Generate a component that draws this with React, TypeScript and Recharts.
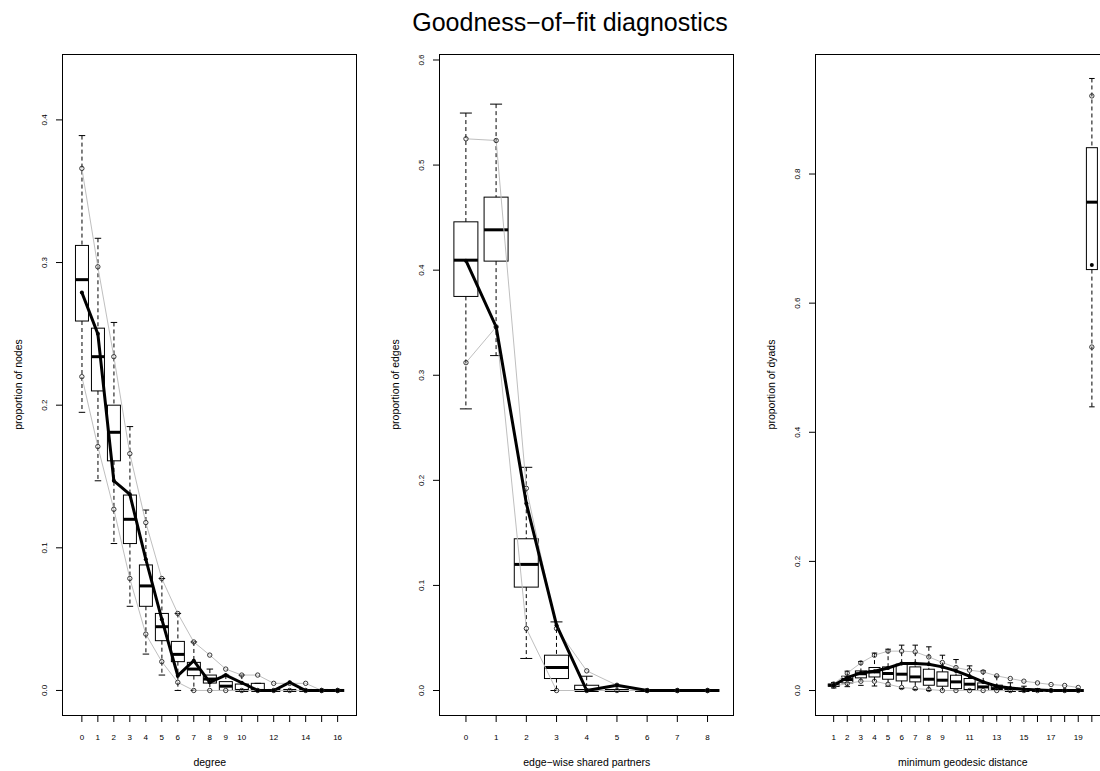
import React from 'react';
import { ComposedChart, Bar, Line, XAxis, YAxis, Label } from 'recharts';

const FONT = '"Liberation Sans", Arial, Helvetica, sans-serif';
const GREY = '#bfbfbf';

// degree
const degreeCats = ['0', '1', '2', '3', '4', '5', '6', '7', '8', '9', '10', '11', '12', '13', '14', '15', '16'];
const degreeShown = ['0', '1', '2', '3', '4', '5', '6', '7', '8', '9', '10', '12', '14', '16'];
const degreeWhiskerLo = [0.195, 0.147, 0.103, 0.059, 0.0255, 0.0108, 0, 0, 0, 0, 0, 0, 0, 0, 0, 0, 0];
const degreeQ1 = [0.259, 0.21, 0.161, 0.103, 0.059, 0.0349, 0.0202, 0.0104, 0.0052, 0, 0, 0, 0, 0, 0, 0, 0];
const degreeMedian = [0.288, 0.234, 0.181, 0.12, 0.0733, 0.0447, 0.0253, 0.015, 0.008, 0.003, 0, 0, 0, 0, 0, 0, 0];
const degreeQ3 = [0.312, 0.254, 0.2, 0.137, 0.088, 0.054, 0.0344, 0.0197, 0.0108, 0.0062, 0.0045, 0.005, 0, 0, 0, 0, 0];
const degreeWhiskerHi = [0.389, 0.317, 0.258, 0.185, 0.1265, 0.0785, 0.054, 0.034, 0.015, 0.0108, 0.0108, 0.005, 0, 0, 0, 0, 0];
const degreeBandLo = [0.22, 0.171, 0.127, 0.0785, 0.0395, 0.0202, 0.0057, 0, 0, 0, 0, 0, 0, 0, 0, 0, 0];
const degreeBandHi = [0.366, 0.297, 0.234, 0.166, 0.1177, 0.0785, 0.054, 0.034, 0.0248, 0.015, 0.0108, 0.0108, 0.005, 0.005, 0.005, 0, 0];
const degreeObserved = [0.279, 0.25, 0.147, 0.1375, 0.092, 0.05, 0.0104, 0.0209, 0.0057, 0.0108, 0.0054, 0, 0, 0.0057, 0, 0, 0];

// edge-wise shared partners
const espCats = ['0', '1', '2', '3', '4', '5', '6', '7', '8'];
const espWhiskerLo = [0.268, 0.3187, 0.0305, 0, 0, 0, 0, 0, 0];
const espQ1 = [0.375, 0.4086, 0.0984, 0.0114, 0, 0, 0, 0, 0];
const espMedian = [0.4095, 0.4384, 0.12, 0.0219, 0, 0, 0, 0, 0];
const espQ3 = [0.446, 0.4695, 0.1444, 0.0336, 0.005, 0, 0, 0, 0];
const espWhiskerHi = [0.5495, 0.558, 0.2124, 0.0653, 0.0136, 0, 0, 0, 0];
const espBandLo = [0.312, 0.346, 0.059, 0, 0, 0, 0, 0, 0];
const espBandHi = [0.525, 0.5234, 0.1924, 0.059, 0.0187, 0.005, 0, 0, 0];
const espObserved = [0.409, 0.346, 0.178, 0.0622, 0, 0.005, 0, 0, 0];

// minimum geodesic distance (last category = unreachable pairs)
const distCats = ['1', '2', '3', '4', '5', '6', '7', '8', '9', '10', '11', '12', '13', '14', '15', '16', '17', '18', '19', '20'];
const distShown = ['1', '2', '3', '4', '5', '6', '7', '8', '9', '11', '13', '15', '17', '19'];
const distWhiskerLo = [0.004, 0.006, 0.008, 0.007, 0.0067, 0.003, 0.0015, 0, 0, 0, 0, 0, 0, 0, 0, 0, 0, 0, 0, 0.4394];
const distQ1 = [0.0067, 0.0118, 0.0196, 0.021, 0.0175, 0.0149, 0.0134, 0.0082, 0.0067, 0.003, 0.0016, 0, 0, 0, 0, 0, 0, 0, 0, 0.652];
const distMedian = [0.0082, 0.017, 0.026, 0.0289, 0.0264, 0.0253, 0.0211, 0.0175, 0.016, 0.0134, 0.0098, 0.0056, 0.003, 0, 0, 0, 0, 0, 0, 0.7564];
const distQ3 = [0.01, 0.0222, 0.0304, 0.0357, 0.0366, 0.0408, 0.0366, 0.033, 0.0289, 0.0237, 0.0186, 0.0118, 0.0083, 0.0036, 0.002, 0, 0, 0, 0, 0.8408];
const distWhiskerHi = [0.0125, 0.03, 0.045, 0.058, 0.064, 0.0703, 0.0703, 0.0677, 0.0547, 0.048, 0.0382, 0.0304, 0.022, 0.012, 0.0067, 0.003, 0, 0, 0, 0.948];
const distBandLo = [0.0067, 0.0108, 0.0144, 0.0144, 0.0098, 0.0047, 0.003, 0.0016, 0, 0, 0, 0, 0, 0, 0, 0, 0, 0, 0, 0.532];
const distBandHi = [0.01, 0.027, 0.0428, 0.0547, 0.061, 0.061, 0.0599, 0.0521, 0.0434, 0.0356, 0.0315, 0.0289, 0.0227, 0.0186, 0.0145, 0.0118, 0.0093, 0.0078, 0.0047, 0.921];
const distObserved = [0.0082, 0.0201, 0.0273, 0.03, 0.035, 0.0419, 0.0419, 0.0408, 0.0366, 0.0304, 0.0222, 0.0134, 0.0067, 0.004, 0.002, 0.0008, 0, 0, 0, 0.659];

const PLOT_TOP = 54;
const PLOT_H = 661;
const PLOT_W = 293.5;
const AXIS_W = 70;
const PAD = (PLOT_W * 0.04) / 1.08;

const BoxShape = (props: any) => {
  const { x, y, width, height } = props;
  const p = props.payload ?? props;
  const { lo, q1, med, q3, hi } = p;
  const span = hi - lo;
  const py = (v: number) => (span > 0 ? y + (height * (hi - v)) / span : y);
  const cx = x + width / 2;
  const cap = width / 4;
  return (
    <g>
      <line x1={cx} x2={cx} y1={py(hi)} y2={py(q3)} stroke="#000" strokeWidth={1} strokeDasharray="4 3" />
      <line x1={cx} x2={cx} y1={py(q1)} y2={py(lo)} stroke="#000" strokeWidth={1} strokeDasharray="4 3" />
      <line x1={cx - cap} x2={cx + cap} y1={py(hi)} y2={py(hi)} stroke="#000" strokeWidth={1} />
      <line x1={cx - cap} x2={cx + cap} y1={py(lo)} y2={py(lo)} stroke="#000" strokeWidth={1} />
      <rect x={x} y={py(q3)} width={width} height={Math.max(py(q1) - py(q3), 0)} fill="none" stroke="#000" strokeWidth={1} />
      <line x1={x} x2={x + width} y1={py(med)} y2={py(med)} stroke="#000" strokeWidth={3} />
    </g>
  );
};

const YTick = (props: any) => {
  const { x, y, payload } = props;
  return (
    <text x={x} y={y} transform={`rotate(-90 ${x} ${y})`} textAnchor="middle" fontSize={8} fontFamily={FONT} fill="#000">
      {Number(payload.value).toFixed(1)}
    </text>
  );
};

const makeXTick = (shown: string[]) => (props: any) => {
  const { x, y, payload } = props;
  if (!shown.includes(String(payload.value))) return <g />;
  return (
    <text x={x} y={y} dy="0.71em" textAnchor="middle" fontSize={8} fontFamily={FONT} fill="#000">
      {payload.value}
    </text>
  );
};

type PanelProps = {
  left: number;
  cats: string[];
  shown: string[];
  lo: number[];
  q1: number[];
  med: number[];
  q3: number[];
  hi: number[];
  bandLo: number[];
  bandHi: number[];
  obs: number[];
  joined: number;
  yDomain: [number, number];
  yTicks: number[];
  xTitle: string;
  yTitle: string;
};

function Panel(props: PanelProps) {
  const { left, cats, shown, joined, yDomain, yTicks, xTitle, yTitle } = props;
  const rows = cats.map((cat, i) => {
    const inLine = i < joined;
    return {
      cat,
      lo: props.lo[i],
      q1: props.q1[i],
      med: props.med[i],
      q3: props.q3[i],
      hi: props.hi[i],
      bandLo: inLine ? props.bandLo[i] : null,
      bandHi: inLine ? props.bandHi[i] : null,
      obs: inLine ? props.obs[i] : null,
      soloLo: inLine ? null : props.bandLo[i],
      soloHi: inLine ? null : props.bandHi[i],
      soloObs: inLine ? null : props.obs[i],
    };
  });
  const openDot = { r: 2.2, fill: 'none', stroke: '#222', strokeWidth: 0.9 };
  const fullDot = { r: 2, fill: '#000', stroke: 'none' };
  return (
    <>
      <div style={{ position: 'absolute', left: left - AXIS_W, top: 0 }}>
        <ComposedChart
          width={AXIS_W + PLOT_W + 20}
          height={771}
          data={rows}
          margin={{ top: PLOT_TOP, right: 20, bottom: 0, left: 0 }}
          barCategoryGap="10%"
        >
          <XAxis
            dataKey="cat"
            type="category"
            interval={0}
            height={771 - PLOT_TOP - PLOT_H}
            tickSize={7}
            tickMargin={12}
            axisLine={false}
            tickLine={{ stroke: '#000' }}
            padding={{ left: PAD, right: PAD }}
            tick={makeXTick(shown)}
            label={
              <Label
                content={() => (
                  <text x={AXIS_W + PLOT_W / 2} y={762} textAnchor="middle" dominantBaseline="central" fontSize={10.5} fontFamily={FONT} fill="#000">
                    {xTitle}
                  </text>
                )}
              />
            }
          />
          <YAxis
            type="number"
            domain={yDomain}
            allowDataOverflow
            ticks={yTicks}
            interval={0}
            width={AXIS_W}
            tickSize={7}
            tickMargin={9}
            axisLine={false}
            tickLine={{ stroke: '#000' }}
            tick={YTick}
            label={
              <Label
                content={() => {
                  const tx = AXIS_W - 45.5;
                  const ty = PLOT_TOP + PLOT_H / 2;
                  return (
                    <text x={tx} y={ty} transform={`rotate(-90 ${tx} ${ty})`} textAnchor="middle" dominantBaseline="central" fontSize={10.5} fontFamily={FONT} fill="#000">
                      {yTitle}
                    </text>
                  );
                }}
              />
            }
          />
          <Bar dataKey={(d: any) => [d.lo, d.hi]} shape={BoxShape} isAnimationActive={false} />
          <Line dataKey="bandHi" stroke={GREY} strokeWidth={1} dot={openDot} activeDot={false} isAnimationActive={false} />
          <Line dataKey="bandLo" stroke={GREY} strokeWidth={1} dot={openDot} activeDot={false} isAnimationActive={false} />
          <Line dataKey="soloHi" stroke={GREY} dot={openDot} activeDot={false} isAnimationActive={false} />
          <Line dataKey="soloLo" stroke={GREY} dot={openDot} activeDot={false} isAnimationActive={false} />
          <Line dataKey="obs" stroke="#000" strokeWidth={3} dot={fullDot} activeDot={false} isAnimationActive={false} />
          <Line dataKey="soloObs" stroke="#000" dot={fullDot} activeDot={false} isAnimationActive={false} />
        </ComposedChart>
      </div>
      <div
        style={{
          position: 'absolute',
          left: left - 0.5,
          top: PLOT_TOP - 0.5,
          width: PLOT_W + 1,
          height: PLOT_H + 1,
          border: '1px solid #000',
          boxSizing: 'border-box',
          pointerEvents: 'none',
        }}
      />
    </>
  );
}

export default function App() {
  return (
    <div style={{ position: 'absolute', left: 0, top: 0, width: 1100, height: 771, overflow: 'hidden', background: '#fff', fontFamily: FONT }}>
      <div style={{ position: 'absolute', left: 0, top: 6, width: 1140, textAlign: 'center', fontSize: 25, lineHeight: '32px', color: '#000' }}>
        Goodness−of−fit diagnostics
      </div>
      <Panel
        left={62.5}
        cats={degreeCats}
        shown={degreeShown}
        lo={degreeWhiskerLo}
        q1={degreeQ1}
        med={degreeMedian}
        q3={degreeQ3}
        hi={degreeWhiskerHi}
        bandLo={degreeBandLo}
        bandHi={degreeBandHi}
        obs={degreeObserved}
        joined={degreeCats.length}
        yDomain={[-0.0172, 0.4462]}
        yTicks={[0, 0.1, 0.2, 0.3, 0.4]}
        xTitle="degree"
        yTitle="proportion of nodes"
      />
      <Panel
        left={439.5}
        cats={espCats}
        shown={espCats}
        lo={espWhiskerLo}
        q1={espQ1}
        med={espMedian}
        q3={espQ3}
        hi={espWhiskerHi}
        bandLo={espBandLo}
        bandHi={espBandHi}
        obs={espObserved}
        joined={espCats.length}
        yDomain={[-0.0233, 0.6057]}
        yTicks={[0, 0.1, 0.2, 0.3, 0.4, 0.5, 0.6]}
        xTitle="edge−wise shared partners"
        yTitle="proportion of edges"
      />
      <Panel
        left={815.5}
        cats={distCats}
        shown={distShown}
        lo={distWhiskerLo}
        q1={distQ1}
        med={distMedian}
        q3={distQ3}
        hi={distWhiskerHi}
        bandLo={distBandLo}
        bandHi={distBandHi}
        obs={distObserved}
        joined={distCats.length - 1}
        yDomain={[-0.0379, 0.9859]}
        yTicks={[0, 0.2, 0.4, 0.6, 0.8]}
        xTitle="minimum geodesic distance"
        yTitle="proportion of dyads"
      />
    </div>
  );
}
